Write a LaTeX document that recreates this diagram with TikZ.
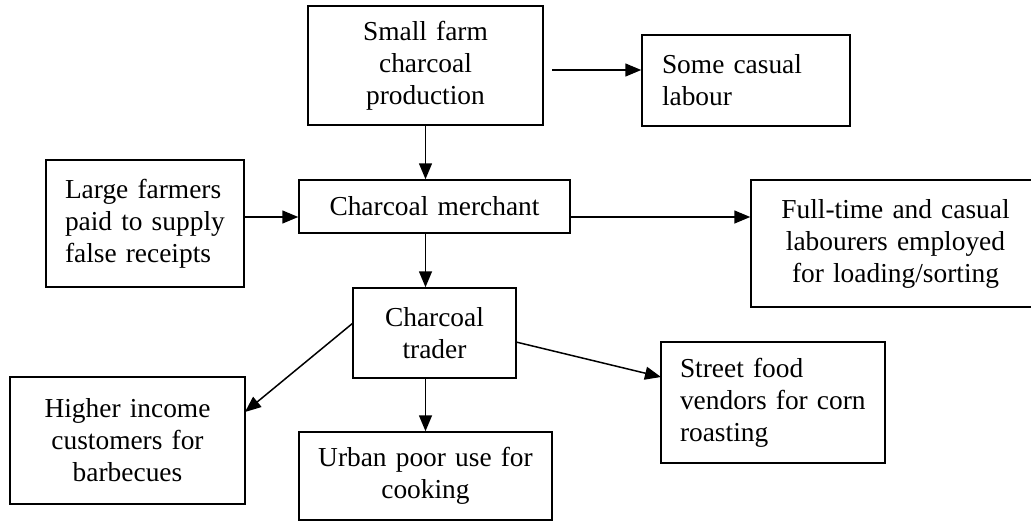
\documentclass[tikz,border=0pt]{standalone}
\usepackage{fontspec}
\setmainfont{Liberation Serif}
\usetikzlibrary{arrows.meta}

\tikzset{
  box/.style={draw, rectangle, line width=1.5pt, inner sep=0pt,
    font=\fontsize{27.4}{32}\selectfont},
  flow/.style={line width=1.5pt, -{Triangle[length=16pt,width=13pt]}}
}

\begin{document}
\begin{tikzpicture}[x=1pt,y=-1pt]
  \useasboundingbox (0,0) rectangle (1031,522);
  \clip (0,0) rectangle (1031,522);

  % boxes
  \node[box, minimum width=235pt, minimum height=119pt, text width=215pt, align=center]
    (small) at (425.5,65.5) {Small farm\\charcoal\\production};
  \node[box, minimum width=208pt, minimum height=91pt, text width=168pt, align=left]
    (casual) at (746,80.5) {Some~casual\\labour};
  \node[box, minimum width=198pt, minimum height=127pt, text width=160pt, align=left]
    (large) at (145,223.5) {Large~farmers\\paid~to~supply\\false~receipts};
  \node[box, minimum width=271pt, minimum height=53pt, text width=251pt, align=center]
    (merchant) at (434.5,206.5) {Charcoal merchant};
  \node[box, minimum width=289pt, minimum height=127pt, text width=269pt, align=center]
    (labourers) at (895.5,243.5) {Full-time and casual\\labourers employed\\for loading/sorting};
  \node[box, minimum width=163pt, minimum height=90pt, text width=143pt, align=center]
    (trader) at (434.5,333) {Charcoal\\trader};
  \node[box, minimum width=235pt, minimum height=127pt, text width=215pt, align=center]
    (higher) at (127.5,440.5) {Higher income\\customers for\\barbecues};
  \node[box, minimum width=253pt, minimum height=88pt, text width=233pt, align=center]
    (urban) at (425.5,476) {Urban poor use for\\cooking};
  \node[box, minimum width=224pt, minimum height=121pt, text width=186pt, align=left]
    (street) at (773,402.5) {Street~food\\vendors~for~corn\\roasting};

  % reference points for the connectors
  \coordinate (casualstart) at (552,70);
  \coordinate (midrow) at (0,217);
  \coordinate (traderleft) at (353,323);
  \coordinate (higherin) at (245,412);
  \coordinate (traderright) at (516,342);
  \coordinate (streetin) at (661,377);

  % connectors
  \draw[flow] (casualstart) -- (casualstart -| casual.west);
  \draw[flow] (small.south) -- (small.south |- merchant.north);
  \draw[flow] (large.east |- midrow) -- (merchant.west |- midrow);
  \draw[flow] (merchant.east |- midrow) -- (labourers.west |- midrow);
  \draw[flow] (small.south |- merchant.south) -- (small.south |- trader.north);
  \draw[flow] (traderleft) -- (higherin);
  \draw[flow] (traderright) -- (streetin);
  \draw[flow] (small.south |- trader.south) -- (small.south |- urban.north);
\end{tikzpicture}
\end{document}
